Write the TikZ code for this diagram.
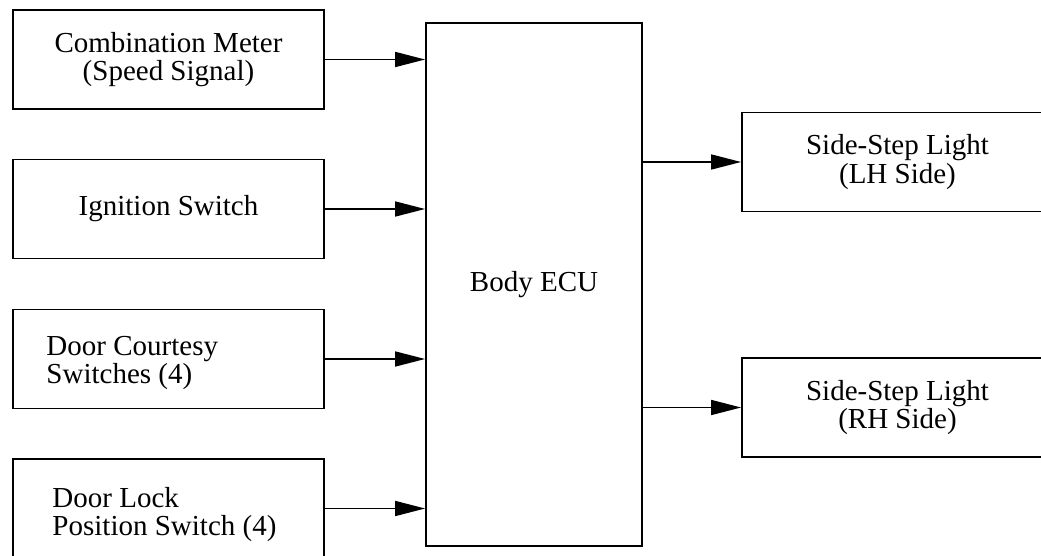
\documentclass[tikz,border=0pt]{standalone}
\usepackage{fontspec}
\setmainfont{Liberation Serif}
\usetikzlibrary{arrows.meta, positioning, calc}

\begin{document}
\begin{tikzpicture}[x=0.5pt, y=-0.5pt,
    font=\fontsize{14.5}{14.2}\selectfont,
    blk/.style={draw, line width=0.9pt, minimum width=155.5pt, minimum height=49.5pt,
        inner sep=0pt, align=center},
    txtl/.style={anchor=west, inner sep=0pt, align=left},
    sig/.style={line width=0.8pt, -{Triangle[length=15pt, width=7.5pt]}}]
    % page size
    \useasboundingbox (0,0) rectangle (1041,556);
    % input boxes on the left
    \node[blk] (meter) at (168.5,59.5) {Combination Meter\\(Speed Signal)};
    \node[blk] (ign) at (168.5,209) {Ignition Switch};
    \node[blk] (court) at (168.5,359) {};
    \node[txtl] (courttxt) at ([xshift=17pt,yshift=-2pt]court.west) {Door Courtesy\\Switches (4)};
    \node[blk] (lock) at (168.5,508.5) {};
    \node[txtl] (locktxt) at ([xshift=20pt,yshift=-3pt]lock.west) {Door Lock\\Position Switch (4)};
    % the ECU in the middle
    \node[blk, minimum width=108pt, minimum height=261.5pt] (ecu) at (534,284.5) {Body ECU};
    % output boxes on the right
    \node[blk] (lhs) at (897.5,162) {Side-Step Light\\(LH Side)};
    \node[blk] (rhs) at (897.5,407.5) {Side-Step Light\\(RH Side)};
    % signal lines
    \foreach \src in {meter, ign, court, lock}
        \draw[sig] (\src.east) -- (\src.east -| ecu.west);
    \foreach \dst in {lhs, rhs}
        \draw[sig] (\dst.west -| ecu.east) -- (\dst.west);
\end{tikzpicture}
\end{document}
